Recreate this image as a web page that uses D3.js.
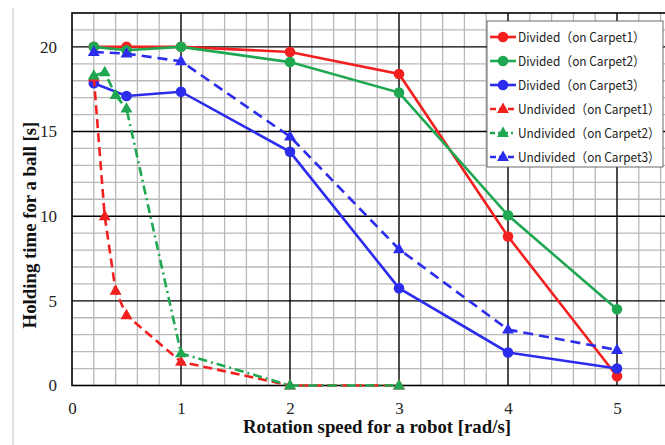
<!DOCTYPE html>
<html><head><meta charset="utf-8">
<script src="https://cdn.jsdelivr.net/npm/d3@7"></script>
<style>body{margin:0;background:#fff;overflow:hidden}svg{display:block}</style>
</head><body><svg id="c" width="665" height="445"></svg>
<script>
const speedsDiv = [0.2, 0.5, 1, 2, 3, 4, 5];
const divCarpet1 = [20, 20, 20, 19.7, 18.4, 8.8, 0.55];
const divCarpet2 = [20, 19.8, 20, 19.1, 17.3, 10.05, 4.5];
const divCarpet3 = [17.85, 17.1, 17.35, 13.8, 5.75, 1.95, 1.0];
const speedsUndiv12 = [0.2, 0.3, 0.4, 0.5, 1, 2, 3];
const undivCarpet1 = [18.2, 10.0, 5.6, 4.15, 1.4, 0, 0];
const undivCarpet2 = [18.3, 18.5, 17.15, 16.35, 1.9, 0, 0];
const speedsUndiv3 = [0.2, 0.5, 1, 2, 3, 4, 5];
const undivCarpet3 = [19.7, 19.6, 19.15, 14.7, 8.05, 3.3, 2.1];
const xTicks = [0, 1, 2, 3, 4, 5];
const yTicks = [0, 5, 10, 15, 20];
const seriesNames = ["Divided（on Carpet1）","Divided（on Carpet2）","Divided（on Carpet3）",
  "Undivided（on Carpet1）","Undivided（on Carpet2）","Undivided（on Carpet3）"];

const RED="#f2201e", GREEN="#1fa752", BLUE="#2c2cec";
const series = [
  {name:seriesNames[0], xs:speedsDiv, ys:divCarpet1, color:RED, dash:null, marker:"circle"},
  {name:seriesNames[1], xs:speedsDiv, ys:divCarpet2, color:GREEN, dash:null, marker:"circle"},
  {name:seriesNames[2], xs:speedsDiv, ys:divCarpet3, color:BLUE, dash:null, marker:"circle"},
  {name:seriesNames[3], xs:speedsUndiv12, ys:undivCarpet1, color:RED, dash:"9,5", marker:"triangle"},
  {name:seriesNames[4], xs:speedsUndiv12, ys:undivCarpet2, color:GREEN, dash:"9,4,2,4", marker:"triangle"},
  {name:seriesNames[5], xs:speedsUndiv3, ys:undivCarpet3, color:BLUE, dash:"10,6", marker:"triangle"}
];

const svg = d3.select("#c");
const L=72, T=13, B=385.5;
const x = d3.scaleLinear().domain([0,5.5]).range([L, 671.5]);
const y = d3.scaleLinear().domain([0,22]).range([B, T]);

svg.append("line").attr("x1",13).attr("x2",13).attr("y1",8).attr("y2",445)
  .attr("stroke","#cfcfcf").attr("stroke-width",1.2);

const g = svg.append("g");
const xMinor = d3.range(0, 5.5001, 0.2).filter(v => Math.abs(v - Math.round(v)) > 1e-6);
const yMinor = d3.range(1, 22, 1).filter(v => v % 5 !== 0);
g.selectAll(".xm").data(xMinor).join("line")
  .attr("x1",d=>x(d)).attr("x2",d=>x(d)).attr("y1",y(22)).attr("y2",y(0))
  .attr("stroke","#b9b9b9").attr("stroke-width",1.3);
g.selectAll(".ym").data(yMinor).join("line")
  .attr("x1",x(0)).attr("x2",x(5.5)).attr("y1",d=>y(d)).attr("y2",d=>y(d))
  .attr("stroke","#b9b9b9").attr("stroke-width",1.3);
g.selectAll(".xM").data(xTicks.filter(d=>d>0)).join("line")
  .attr("x1",d=>x(d)).attr("x2",d=>x(d)).attr("y1",y(22)).attr("y2",y(0))
  .attr("stroke","#000").attr("stroke-width",1.4);
g.selectAll(".yM").data(yTicks.filter(d=>d>0)).join("line")
  .attr("x1",x(0)).attr("x2",x(5.5)).attr("y1",d=>y(d)).attr("y2",d=>y(d))
  .attr("stroke","#000").attr("stroke-width",1.4);
g.append("rect").attr("x",x(0)).attr("y",y(22)).attr("width",x(5.5)-x(0)).attr("height",y(0)-y(22))
  .attr("fill","none").attr("stroke","#000").attr("stroke-width",1.6);

const xAxis = svg.append("g").attr("transform",`translate(0,${B})`)
  .call(d3.axisBottom(x).tickValues(xTicks).tickSize(0).tickPadding(16).tickFormat(d3.format("d")));
const yAxis = svg.append("g").attr("transform",`translate(${L},0)`)
  .call(d3.axisLeft(y).tickValues(yTicks).tickSize(0).tickPadding(15).tickFormat(d3.format("d")));
[xAxis,yAxis].forEach(a=>{
  a.select(".domain").remove();
  a.selectAll("text").attr("font-family","'Liberation Serif','Times New Roman',serif")
    .attr("font-size",17).attr("fill","#222");
});

svg.append("text").attr("x",377).attr("y",433).attr("text-anchor","middle")
  .attr("font-family","'Liberation Serif',serif").attr("font-weight","bold").attr("font-size",18.8)
  .attr("fill","#111").text("Rotation speed for a robot [rad/s]");
svg.append("text").attr("transform","translate(36,225) rotate(-90)").attr("text-anchor","middle")
  .attr("font-family","'Liberation Serif',serif").attr("font-weight","bold").attr("font-size",18.8)
  .attr("fill","#111").text("Holding time for a ball [s]");

const tri = d3.symbol().type(d3.symbolTriangle).size(62);
function drawMarker(sel, s, cx, cy){
  if(s.marker==="circle"){
    sel.append("circle").attr("cx",cx).attr("cy",cy).attr("r",5.3).attr("fill",s.color);
  } else {
    sel.append("path").attr("d",tri).attr("transform",`translate(${cx},${cy+0.5})`).attr("fill",s.color);
  }
}

const line = d3.line().x(d=>x(d[0])).y(d=>y(d[1]));
series.forEach(s=>{
  const pts = s.xs.map((v,i)=>[v, s.ys[i]]);
  const sg = svg.append("g");
  sg.append("path").attr("d",line(pts)).attr("fill","none").attr("stroke",s.color)
    .attr("stroke-width",2.6).attr("stroke-dasharray",s.dash);
  pts.forEach(p=>drawMarker(sg, s, x(p[0]), y(p[1])));
});

const lg = svg.append("g");
lg.append("rect").attr("x",487).attr("y",21).attr("width",176).attr("height",146)
  .attr("fill","#fff").attr("stroke","#444").attr("stroke-width",0.8);
series.forEach((s,i)=>{
  const cy = 37 + i*24;
  lg.append("line").attr("x1",490).attr("x2",516).attr("y1",cy).attr("y2",cy)
    .attr("stroke",s.color).attr("stroke-width",2.6)
    .attr("stroke-dasharray", s.dash ? (s.color===GREEN ? "5,3,2,3" : "6,3") : null);
  drawMarker(lg, s, 503, cy);
  lg.append("text").attr("x",518).attr("y",cy+5).attr("font-family","'Noto Sans CJK JP','Noto Sans',sans-serif")
    .attr("font-size",13).attr("fill","#222")
    .attr("textLength", s.marker==="circle" ? 127 : 142).attr("lengthAdjust","spacingAndGlyphs")
    .text(s.name);
});
</script></body></html>
